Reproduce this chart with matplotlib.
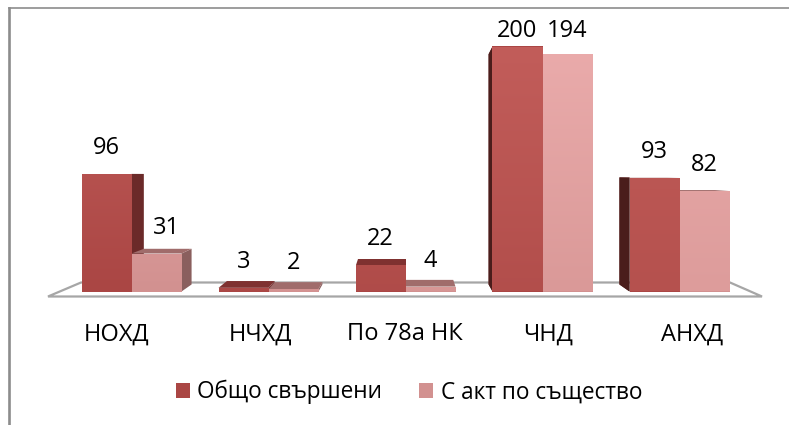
import matplotlib
matplotlib.use("Agg")
import matplotlib.pyplot as plt
import numpy as np
from matplotlib.colors import LinearSegmentedColormap, to_rgb
from matplotlib.patches import Polygon, Patch

categories = ["НОХД", "НЧХД", "По 78а НК", "ЧНД", "АНХД"]
series_names = ["Общо свършени", "С акт по същество"]
total_done = [96, 3, 22, 200, 93]
with_act = [31, 2, 4, 194, 82]

W, H = 789, 425
PX_X = 137.0    # pixels per category
PX_Y = 1.225    # pixels per unit
X0_PX, Y0_PX = 131.5, 291.5
BAR_W = 50 / PX_X
VP_X = 2.0      # vanishing point of the fake 3d
HORIZON = 95.5
KX, KY = 0.045, 0.06

plt.rcParams["font.family"] = ["Open Sans", "DejaVu Sans"]

fig = plt.figure(figsize=(W / 100, H / 100), dpi=100)
ax = fig.add_axes([0, 0, 1, 1])
xlim = (-X0_PX / PX_X, (W - X0_PX) / PX_X)
ylim = (-(H - Y0_PX) / PX_Y, Y0_PX / PX_Y)


def back(x, y):
    return x + KX * (VP_X - x), y + KY * (HORIZON - y)


def lerp(a, b, f):
    return np.array(to_rgb(a)) * (1 - f) + np.array(to_rgb(b)) * f


def fake3d(x0, x1, h, side, top):
    if x1 <= VP_X:
        pts = [(x1, 0), (x1, h), back(x1, h), back(x1, 0)]
        ax.add_patch(Polygon(pts, fc=side, ec="none", zorder=2))
    elif x0 >= VP_X:
        pts = [(x0, 0), (x0, h), back(x0, h), back(x0, 0)]
        ax.add_patch(Polygon(pts, fc=side, ec="none", zorder=2))
    if h < HORIZON:
        pts = [(x0, h), (x1, h), back(x1, h), back(x0, h)]
        ax.add_patch(Polygon(pts, fc=top, ec="none", zorder=2))


def shaded_bars(xs, values, left_col, right_col, top_col, side, top):
    bars = ax.bar(xs, values, BAR_W, color=left_col, zorder=3)
    for i, (x, v, b) in enumerate(zip(xs, values, bars)):
        fake3d(x - BAR_W / 2, x + BAR_W / 2, v, side, top)
        # bars get lighter to the right and towards the top when tall
        c0 = lerp(left_col, right_col, i / 4)
        c1 = lerp(c0, top_col, v / 200)
        cmap = LinearSegmentedColormap.from_list("g", [c0, c1])
        im = ax.imshow(np.linspace(0, 1, 128).reshape(-1, 1), cmap=cmap, origin="lower", aspect="auto",
                       extent=(x - BAR_W / 2, x + BAR_W / 2, 0, v), zorder=3.1)
        im.set_clip_path(b)


x = np.arange(len(categories))

# floor of the plot
ax.add_patch(Polygon([(xlim[0] + 48 / PX_X, -5 / PX_Y), (xlim[0] + 762 / PX_X, -5 / PX_Y),
                      (xlim[0] + 730 / PX_X, 9 / PX_Y), (xlim[0] + 81 / PX_X, 9 / PX_Y)],
                     closed=True, fc="white", ec="#a6a6a6", lw=1.6, zorder=1))

shaded_bars(x - BAR_W / 2, total_done, "#aa4644", "#b5514e", "#c25d5a", "#6b2a29", "#7f3130")
shaded_bars(x + BAR_W / 2, with_act, "#d29190", "#dd9c9b", "#eaabab", "#8a5f5e", "#a06c6b")

# darker left faces on the right hand bars
for i in [3, 4]:
    x0 = x[i] - BAR_W
    h = total_done[i]
    ax.add_patch(Polygon([(x0, 0), (x0, h), back(x0, h), back(x0, 0)], fc="#4a1d1b", ec="none", zorder=2))

label_ceiling = (Y0_PX - 31) / PX_Y
for s, (xs, vals) in enumerate([(x - BAR_W / 2, total_done), (x + BAR_W / 2, with_act)]):
    for i, (xi, v) in enumerate(zip(xs, vals)):
        # the 31 label sits over the side face in the original
        shift = 10 / PX_X if (s, i) == (1, 0) else 0
        ax.text(xi + shift, min(v + 26 / PX_Y, label_ceiling), str(v), ha="center", va="center",
                fontsize=17, color="black", zorder=5)

for xi, c in zip(x, categories):
    ax.text(VP_X + 1.05 * (xi - VP_X) - 1 / PX_X, -43 / PX_Y, c, ha="center", va="center", fontsize=17, color="black")

# outer chart frame, only top and left are visible
left_x = xlim[0] + 8.5 / PX_X
top_y = ylim[1] - 8 / PX_Y
ax.plot([left_x, left_x], [ylim[0], top_y], color="#8c8c8c", lw=1.9, zorder=1)
ax.plot([left_x, xlim[1]], [top_y, top_y], color="#8c8c8c", lw=1.2, zorder=1)

handles = [Patch(fc="#aa4644"), Patch(fc="#d29190")]
leg = ax.legend(handles, series_names, loc="center", bbox_to_anchor=(409 / W, 1 - 392 / H), ncol=2, frameon=False,
                fontsize=16.3, handlelength=0.62, handleheight=0.62, handletextpad=0.32, columnspacing=1.64)

ax.set_xlim(xlim)
ax.set_ylim(ylim)
ax.axis("off")

fig.savefig("out.png", dpi=100)
